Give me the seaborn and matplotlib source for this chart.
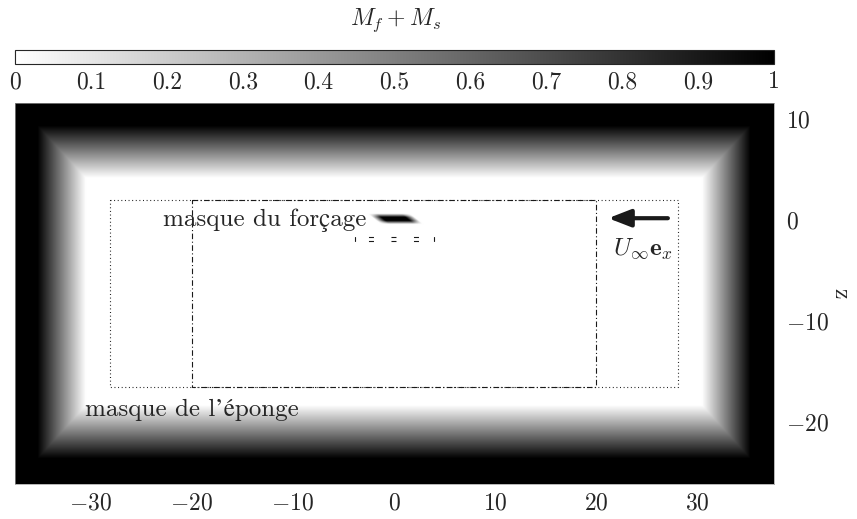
import numpy as np
import matplotlib
matplotlib.use("Agg")
import matplotlib.pyplot as plt
import seaborn as sns

# axis limits and ticks
x_lim = [-37.5, 37.6]
z_lim = [-26.1, 11.6]
x_ticks = [-30, -20, -10, 0, 10, 20, 30]
z_ticks = [-20, -10, 0, 10]
cbar_ticks = [0, 0.1, 0.2, 0.3, 0.4, 0.5, 0.6, 0.7, 0.8, 0.9, 1]

# sponge mask: inner (white) and outer (black) edges of the ramps
sponge_x_inner = 30.5
sponge_x_outer = 35.3
sponge_top_inner = 4.2
sponge_top_outer = 9.4
sponge_bot_inner = -18.3
sponge_bot_outer = -23.6

# forcing mask: sheared plate
plate_center = [0.15, 0.15]
plate_half_length = 1.65
plate_half_thick = 0.35
plate_shear = 1.3

# outlines
dotted_box_x = [-28.1, 28.1, 28.1, -28.1, -28.1]
dotted_box_z = [2.0, 2.0, -16.5, -16.5, 2.0]
dashdot_box_x = [-20.0, 20.0, 20.0, -20.0, -20.0]
dashdot_box_z = [2.0, 2.0, -16.5, -16.5, 2.0]
small_box_x = [-3.9, 4.0]
small_box_z = [-1.7, -2.1]

arrow_tail = [27.1, 0.2]
arrow_head = [21.2, 0.2]

sns.set_theme(style="white")
plt.rcParams['font.family'] = ['cmr10', 'STIXGeneral', 'DejaVu Serif']
plt.rcParams['mathtext.fontset'] = 'cm'
plt.rcParams['axes.formatter.use_mathtext'] = True
plt.rcParams['axes.unicode_minus'] = True
plt.rcParams['lines.scale_dashes'] = False

# build the mask field
x = np.linspace(x_lim[0], x_lim[1], 1500)
z = np.linspace(z_lim[0], z_lim[1], 760)
X, Z = np.meshgrid(x, z)


def ramp(d, inner, outer):
    return np.clip((d - inner) / (outer - inner), 0, 1)


sponge = np.maximum.reduce([
    ramp(np.abs(X), sponge_x_inner, sponge_x_outer),
    ramp(Z, sponge_top_inner, sponge_top_outer),
    ramp(-Z, -sponge_bot_inner, -sponge_bot_outer),
])

s = (X - plate_center[0]) + plate_shear * (Z - plate_center[1])
forcing = (np.clip(0.5 + (plate_half_length - np.abs(s)) / 0.9, 0, 1)
           * np.clip(0.5 + (plate_half_thick - np.abs(Z - plate_center[1])) / 0.35, 0, 1))
field = np.clip(sponge + forcing, 0, 1)

fig = plt.figure(figsize=(8.57, 5.19), dpi=100)
ax = fig.add_axes([15 / 857, 1 - 484 / 519, 759 / 857, 381 / 519])
cax = fig.add_axes([15 / 857, 1 - 64 / 519, 759 / 857, 14 / 519])

im = ax.imshow(field, extent=[x_lim[0], x_lim[1], z_lim[0], z_lim[1]], origin='lower',
               cmap='gray_r', vmin=0, vmax=1, aspect='auto', interpolation='bilinear')
ax.set_xlim(x_lim)
ax.set_ylim(z_lim)

ax.plot(dotted_box_x, dotted_box_z, color='k', lw=0.8, ls=(0, (0.7, 1.9)))
ax.plot(dashdot_box_x, dashdot_box_z, color='k', lw=0.8, ls=(0, (4, 1.8, 0.8, 1.8)))

# small dashed box round the plate
for zz in small_box_z:
    ax.plot(small_box_x, [zz, zz], color='k', lw=0.8, ls=(6.5, (3.6, 12.6)))
for xx in small_box_x:
    ax.plot([xx, xx], small_box_z, color='k', lw=0.8)

ax.annotate('', xy=arrow_head, xytext=arrow_tail,
            arrowprops=dict(arrowstyle='-|>,head_length=0.9,head_width=0.35',
                            lw=3, color='k', mutation_scale=15, shrinkA=0, shrinkB=0))
ax.text(24.6, -2.8, r'$U_\infty\mathbf{e}_x$', fontsize=18, ha='center', va='center')
ax.text(-2.7, 0.0, 'masque du forçage', fontsize=18, ha='right', va='center')
ax.text(-30.6, -18.8, 'masque de l’éponge', fontsize=18, ha='left', va='center')

ax.set_xticks(x_ticks)
ax.set_yticks(z_ticks)
ax.yaxis.tick_right()
ax.yaxis.set_label_position('right')
ax.tick_params(direction='in', length=0, labelsize=17, pad=6)
ax.tick_params(axis='y', pad=9)
ax.set_ylabel('z', fontsize=17, rotation=-90, labelpad=16)
for sp in ax.spines.values():
    sp.set_linewidth(0.5)
    sp.set_color('0.6')

cb = fig.colorbar(im, cax=cax, orientation='horizontal', ticks=cbar_ticks)
cb.ax.set_xticklabels([f'{t:g}' for t in cbar_ticks])
cb.ax.tick_params(direction='in', length=10, width=0.8, color='0.6', labelsize=17, pad=5)
cb.outline.set_linewidth(0.8)
fig.text(395 / 857, 1 - 20 / 519, r'$M_f + M_s$', fontsize=17, ha='center', va='center')

fig.savefig('out.png', dpi=100)
